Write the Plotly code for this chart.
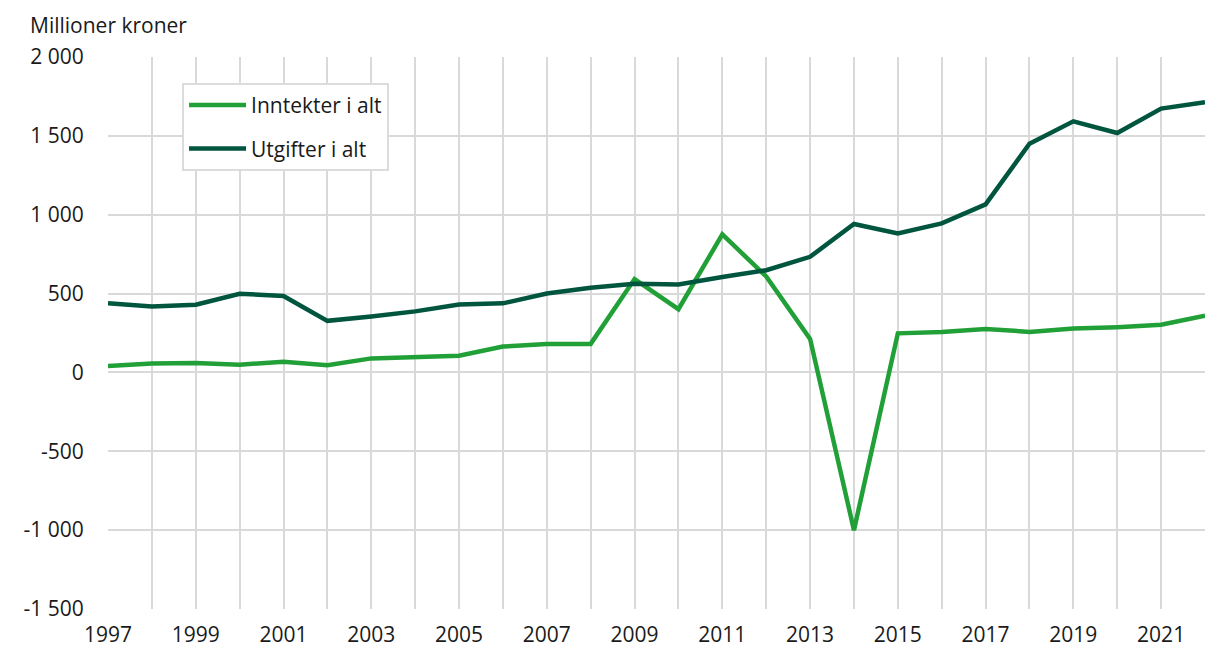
import plotly.graph_objects as go

years = list(range(1997, 2023))
inntekter = [41, 57, 60, 49, 68, 45, 89, 98, 106, 164, 180, 181, 592, 401, 875, 609,
             213, -1000, 248, 257, 276, 257, 278, 287, 302, 359]
utgifter = [439, 418, 429, 499, 484, 327, 355, 387, 431, 438, 500, 537, 563, 557, 605, 648,
            733, 941, 881, 945, 1066, 1450, 1592, 1518, 1673, 1713]

y_ticks = [-1500, -1000, -500, 0, 500, 1000, 1500, 2000]
y_labels = ["-1 500", "-1 000", "-500", "0", "500", "1 000", "1 500", "2 000"]
x_ticks = list(range(1997, 2023, 2))

FONT = "Open Sans, Noto Sans, sans-serif"
FS = 21

fig = go.Figure()
fig.add_trace(go.Scatter(x=years, y=inntekter, mode="lines", name="Inntekter i alt",
                         legendgroup="a",
                         line=dict(color="#21a038", width=4.5), cliponaxis=False))
fig.add_trace(go.Scatter(x=years, y=utgifter, mode="lines", name="Utgifter i alt",
                         legendgroup="b",
                         line=dict(color="#00553f", width=4.5), cliponaxis=False))

fig.update_layout(
    width=1205, height=650,
    margin=dict(l=108, r=0, t=57, b=41, autoexpand=False),
    paper_bgcolor="white", plot_bgcolor="white",
    font=dict(family=FONT, size=FS, color="#1a1a1a"),
    showlegend=True,
    legend=dict(x=0.0675, y=0.953, xanchor="left", yanchor="top",
                bgcolor="white", bordercolor="#dcdcdc", borderwidth=2,
                font=dict(size=FS), tracegroupgap=13, traceorder="grouped",
                itemwidth=57),
    xaxis=dict(range=[1997, 2022], tickvals=x_ticks, ticktext=[str(v) for v in x_ticks],
               showgrid=True, gridcolor="#d9d9d9", gridwidth=2,
               zeroline=False, showline=False, ticks="outside", ticklen=7,
               tickcolor="rgba(0,0,0,0)",
               minor=dict(showgrid=True, gridcolor="#d9d9d9", gridwidth=2, dtick=1, tick0=1997)),
    yaxis=dict(range=[-1500, 2000], tickvals=y_ticks, ticktext=y_labels,
               showgrid=True, gridcolor="#d9d9d9", gridwidth=2,
               zeroline=False, showline=False, ticks="outside", ticklen=19,
               tickcolor="rgba(0,0,0,0)"),
    annotations=[dict(text="Millioner kroner", xref="paper", yref="paper",
                      x=-0.0729, y=1.058, xanchor="left", yanchor="middle",
                      showarrow=False, font=dict(size=FS, family=FONT))],
)
fig.write_html("out.html", config={"displayModeBar": False},
               post_script="document.body.style.margin='0';")
